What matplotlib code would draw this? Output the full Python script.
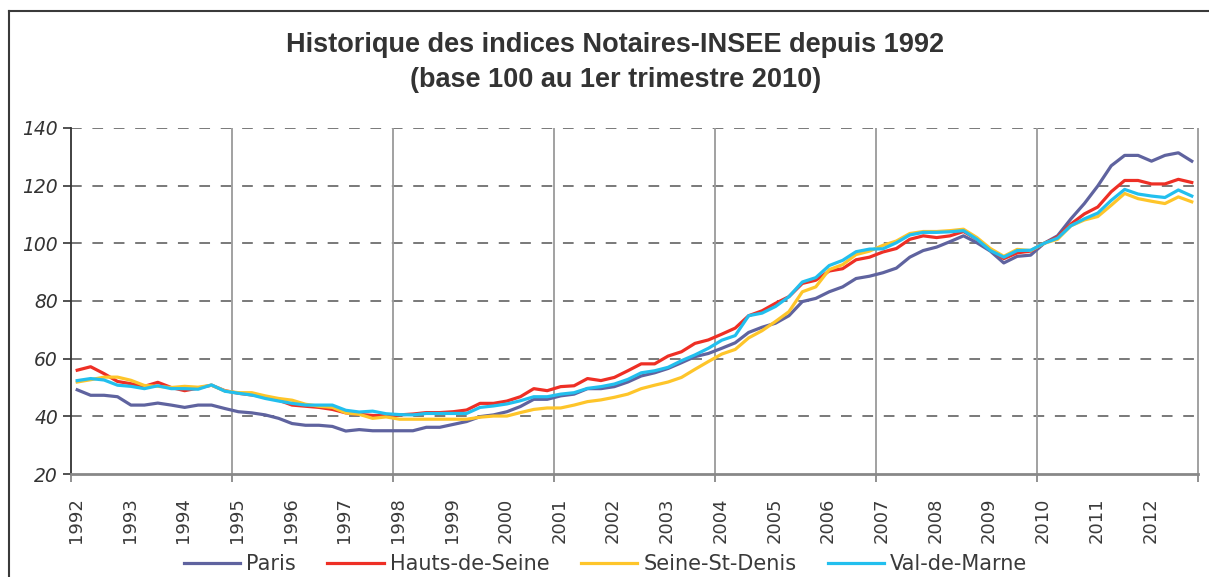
import matplotlib
matplotlib.use("Agg")
import matplotlib.pyplot as plt
from matplotlib.lines import Line2D
import numpy as np

# données trimestrielles 1992T1 -> 2012T4 (base 100 au 1er trimestre 2010)
years = list(range(1992, 2013))

paris = [49.2, 47.3, 47.3, 46.8, 43.9, 43.9, 44.6, 43.9, 43.1, 43.9, 43.9, 42.7,
         41.6, 41.2, 40.5, 39.3, 37.5, 36.9, 36.9, 36.5, 34.9, 35.4, 35.0, 35.0,
         35.0, 35.0, 36.2, 36.2, 37.2, 38.2, 39.9, 40.5, 41.6, 43.4, 45.9, 45.9,
         47.1, 47.7, 49.6, 49.6, 50.3, 51.9, 54.0, 55.1, 56.6, 58.6, 60.7, 61.8,
         63.6, 65.5, 69.1, 70.9, 72.3, 74.9, 79.8, 80.9, 83.2, 84.9, 87.8, 88.6,
         89.8, 91.4, 95.2, 97.5, 98.7, 100.6, 102.6, 100.2, 97.3, 93.2, 95.5, 95.9,
         100.0, 102.6, 108.5, 113.8, 119.9, 126.9, 130.5, 130.5, 128.5, 130.5, 131.4, 128.5]

hauts_de_seine = [56.0, 57.2, 54.8, 52.1, 51.3, 50.4, 51.8, 50.0, 48.9, 49.8, 50.8, 48.9,
                  48.0, 47.4, 46.8, 45.6, 43.9, 43.5, 43.1, 42.4, 41.2, 40.7, 40.3, 40.2,
                  40.5, 40.8, 41.3, 41.3, 41.6, 42.2, 44.5, 44.5, 45.3, 46.8, 49.6, 48.9,
                  50.3, 50.6, 53.1, 52.4, 53.5, 55.8, 58.2, 58.2, 60.9, 62.4, 65.3, 66.5,
                  68.5, 70.6, 74.9, 76.6, 79.2, 81.5, 86.1, 87.2, 90.4, 91.2, 94.3, 95.2,
                  97.0, 98.2, 101.4, 102.6, 102.0, 102.6, 104.1, 101.4, 97.9, 94.7, 96.7, 97.3,
                  100.0, 102.2, 106.7, 110.2, 112.6, 117.9, 121.8, 121.8, 120.6, 120.6, 122.2, 121.1]

seine_st_denis = [51.9, 52.7, 53.6, 53.6, 52.5, 50.7, 50.4, 50.0, 50.4, 50.1, 50.8, 48.8,
                  48.2, 48.2, 47.1, 46.2, 45.6, 44.2, 43.5, 43.1, 41.2, 40.7, 39.3, 39.8,
                  39.0, 39.0, 39.0, 39.0, 39.0, 39.0, 39.7, 40.1, 40.1, 41.3, 42.4, 42.9,
                  42.9, 43.9, 45.1, 45.7, 46.6, 47.7, 49.6, 50.8, 51.9, 53.5, 56.3, 59.0,
                  61.6, 63.2, 67.2, 69.7, 72.9, 76.3, 83.2, 84.9, 90.9, 92.6, 96.1, 97.3,
                  99.3, 100.8, 103.4, 104.1, 104.1, 104.4, 104.9, 102.0, 98.2, 95.5, 97.9, 97.5,
                  100.0, 101.4, 106.1, 108.1, 109.3, 113.2, 117.3, 115.5, 114.6, 113.8, 116.1, 114.4]

val_de_marne = [52.4, 53.1, 52.6, 50.8, 50.4, 49.6, 50.6, 49.6, 49.6, 49.4, 50.9, 48.7,
                48.0, 47.4, 46.2, 45.3, 44.5, 43.9, 43.9, 43.9, 42.1, 41.5, 41.8, 40.9,
                40.6, 40.5, 41.0, 41.0, 41.0, 41.0, 43.1, 43.6, 44.3, 45.4, 46.8, 46.8,
                47.7, 48.2, 49.7, 50.3, 51.2, 52.8, 55.1, 55.8, 57.0, 59.3, 61.3, 63.6,
                66.4, 68.0, 74.9, 75.8, 78.1, 81.5, 86.6, 88.1, 92.3, 94.1, 97.1, 98.0,
                98.1, 100.2, 102.9, 103.8, 103.8, 104.0, 104.4, 101.4, 97.5, 95.2, 97.5, 97.6,
                100.0, 101.8, 106.1, 108.5, 110.5, 114.9, 118.7, 117.1, 116.4, 115.9, 118.5, 116.4]

series = [
    ("Paris", paris, "#5f639f"),
    ("Hauts-de-Seine", hauts_de_seine, "#ee2f25"),
    ("Seine-St-Denis", seine_st_denis, "#fec52a"),
    ("Val-de-Marne", val_de_marne, "#22bfee"),
]

n = len(paris)
x = np.arange(n) + 0.5

fig = plt.figure(figsize=(12.09, 5.77), dpi=100)
ax = fig.add_axes([70.5 / 1209, 1 - 474 / 577, (1198.5 - 70.5) / 1209, (474 - 128) / 577])

# cadre du graphique (coupé à droite et en bas)
fig.add_artist(Line2D([8.5 / 1209, 8.5 / 1209], [0, 1 - 10.5 / 577], color="#3a3a3a", lw=1.5))
fig.add_artist(Line2D([8.5 / 1209, 1], [1 - 10.5 / 577, 1 - 10.5 / 577], color="#3a3a3a", lw=1.5))

for name, vals, col in series:
    ax.plot(x, vals, color=col, lw=2.3, label=name, solid_joinstyle="round", zorder=3)

ax.set_xlim(0, n)
ax.set_ylim(20, 140)

# grille horizontale en tirets
for yv in range(40, 141, 20):
    ax.axhline(yv, color="#555555", lw=1.1, dashes=(7, 7), zorder=1)
# grille verticale tous les 3 ans
for xv in range(12, n + 1, 12):
    ax.axvline(xv, color="#9a9a9a", lw=1.3, zorder=1)

ax.set_yticks(range(20, 141, 20))
ax.set_yticklabels([str(v) for v in range(20, 141, 20)], fontstyle="italic",
                   fontsize=13.5, color="#333333")
ax.set_xticks(range(0, n + 1, 12))
ax.set_xticklabels([])
ax.set_xticks(np.arange(0, n, 4) + 0.4, minor=True)
ax.set_xticklabels([str(y) for y in years], minor=True, rotation=90,
                   fontsize=13, color="#3a3a3a")
ax.tick_params(axis="x", which="major", length=6, width=1.3, color="#888888")
ax.tick_params(axis="x", which="minor", length=0, pad=17)
ax.tick_params(axis="y", length=6, width=1.2, color="#333333", pad=3)

for s in ["top", "right"]:
    ax.spines[s].set_visible(False)
ax.spines["left"].set_color("#333333")
ax.spines["left"].set_linewidth(1.3)
ax.spines["bottom"].set_color("#888888")
ax.spines["bottom"].set_linewidth(2)

fig.text(0.509, 1 - 45 / 577, "Historique des indices Notaires-INSEE depuis 1992",
         ha="center", va="center", fontsize=19.5, fontweight="bold", color="#333333",
         family="Liberation Sans")
fig.text(0.509, 1 - 80 / 577, "(base 100 au 1er trimestre 2010)",
         ha="center", va="center", fontsize=19.5, fontweight="bold", color="#333333",
         family="Liberation Sans")

fig.legend(loc="center", bbox_to_anchor=(0.501, 1 - 564 / 577), ncol=4, frameon=False,
           fontsize=15, handlelength=2.7, handletextpad=0.3, columnspacing=1.5,
           labelcolor="#3a3a3a")

fig.savefig("out.png", dpi=100)
